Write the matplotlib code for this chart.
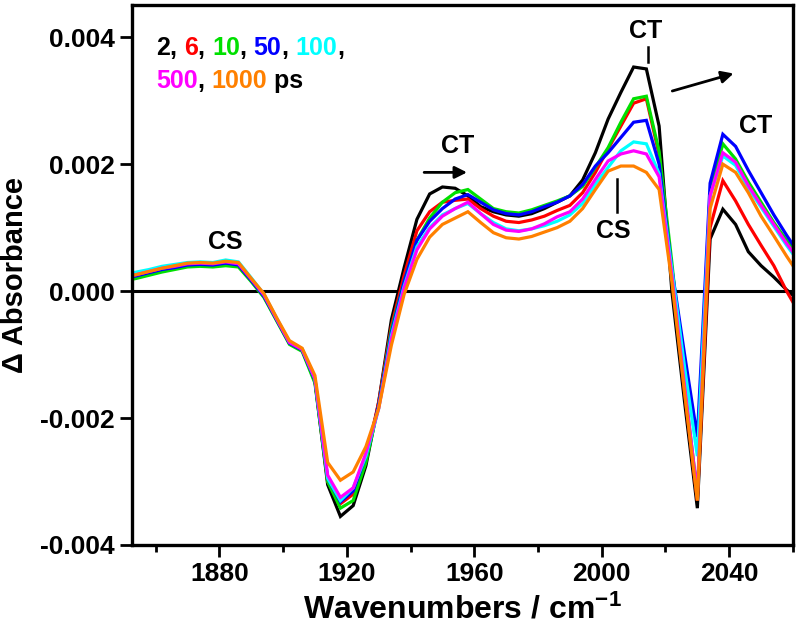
import matplotlib
matplotlib.use('Agg')
import matplotlib.pyplot as plt
from matplotlib.ticker import MultipleLocator, FormatStrFormatter
import numpy as np

FONT = 'Liberation Sans'
plt.rcParams['font.family'] = [FONT, 'DejaVu Sans']
plt.rcParams['font.weight'] = 'bold'
plt.rcParams['mathtext.fontset'] = 'custom'
plt.rcParams['mathtext.rm'] = FONT + ':bold'
plt.rcParams['mathtext.it'] = FONT + ':bold'
plt.rcParams['mathtext.bf'] = FONT + ':bold'

# wavenumber grid (cm-1), 4 cm-1 steps
wavenumbers = np.arange(1850, 2063, 4)

# delta absorbance values in mOD (multiplied by 1e-3 below)
delays = ['2', '6', '10', '50', '100', '500', '1000']
colors = ['#000000', '#ff0000', '#00e000', '#0000ff', '#00ffff', '#ff00ff', '#ff8000']

da_2ps = [0.18, 0.22, 0.27, 0.32, 0.36, 0.40, 0.41, 0.40, 0.43, 0.40, 0.17, -0.08, -0.45, -0.82,
          -0.93, -1.42, -3.05, -3.55, -3.38, -2.75, -1.75, -0.45, 0.37, 1.13, 1.53, 1.64, 1.62,
          1.50, 1.33, 1.25, 1.20, 1.18, 1.22, 1.30, 1.40, 1.50, 1.75, 2.18, 2.71, 3.13, 3.53,
          3.50, 2.60, 0.00, -1.75, -3.42, 0.82, 1.29, 1.05, 0.62, 0.40, 0.22, 0.02, -0.15]
da_6ps = [0.20, 0.24, 0.29, 0.34, 0.37, 0.41, 0.42, 0.41, 0.44, 0.41, 0.17, -0.08, -0.45, -0.82,
          -0.93, -1.40, -3.00, -3.35, -3.20, -2.65, -1.75, -0.55, 0.25, 0.95, 1.25, 1.40, 1.43,
          1.45, 1.30, 1.18, 1.10, 1.08, 1.12, 1.18, 1.27, 1.35, 1.55, 1.87, 2.24, 2.60, 2.96,
          3.03, 2.15, 0.25, -1.60, -3.30, 1.00, 1.74, 1.42, 1.05, 0.72, 0.40, 0.00, -0.35]
da_10ps = [0.16, 0.20, 0.25, 0.30, 0.34, 0.38, 0.39, 0.38, 0.40, 0.38, 0.15, -0.10, -0.47, -0.84,
           -0.95, -1.45, -3.00, -3.42, -3.30, -2.70, -1.80, -0.60, 0.15, 0.80, 1.15, 1.40, 1.55,
           1.60, 1.45, 1.30, 1.25, 1.23, 1.28, 1.35, 1.42, 1.50, 1.65, 1.95, 2.26, 2.66, 3.03,
           3.07, 2.20, 0.45, -1.50, -3.20, 1.55, 2.32, 2.08, 1.72, 1.40, 1.08, 0.80, 0.55]
da_50ps = [0.20, 0.24, 0.29, 0.34, 0.37, 0.41, 0.42, 0.41, 0.44, 0.41, 0.17, -0.08, -0.45, -0.82,
           -0.93, -1.40, -2.95, -3.32, -3.15, -2.60, -1.80, -0.65, 0.15, 0.80, 1.10, 1.30, 1.45,
           1.52, 1.40, 1.28, 1.22, 1.20, 1.25, 1.33, 1.40, 1.50, 1.68, 1.97, 2.18, 2.42, 2.66,
           2.69, 2.00, 0.35, -1.00, -2.30, 1.70, 2.47, 2.28, 1.90, 1.55, 1.20, 0.88, 0.58]
da_100ps = [0.26, 0.30, 0.34, 0.39, 0.42, 0.45, 0.46, 0.45, 0.49, 0.46, 0.21, -0.05, -0.43, -0.80,
            -0.91, -1.38, -2.95, -3.30, -3.10, -2.60, -1.85, -0.70, 0.08, 0.70, 1.00, 1.20, 1.30,
            1.38, 1.22, 1.08, 0.98, 0.95, 0.98, 1.03, 1.10, 1.20, 1.38, 1.68, 1.95, 2.21, 2.35,
            2.32, 1.85, 0.35, -1.20, -2.60, 1.50, 2.13, 1.98, 1.62, 1.32, 1.02, 0.72, 0.45]
da_500ps = [0.22, 0.26, 0.31, 0.36, 0.39, 0.43, 0.44, 0.43, 0.46, 0.43, 0.19, -0.06, -0.44, -0.81,
            -0.92, -1.38, -2.90, -3.25, -3.10, -2.55, -1.85, -0.75, 0.05, 0.65, 0.98, 1.18, 1.30,
            1.40, 1.22, 1.05, 0.96, 0.94, 0.98, 1.06, 1.17, 1.25, 1.45, 1.76, 2.05, 2.16, 2.21,
            2.16, 1.80, 0.25, -1.50, -3.20, 1.50, 2.18, 2.03, 1.66, 1.35, 1.05, 0.75, 0.48]
da_1000ps = [0.22, 0.26, 0.31, 0.36, 0.40, 0.44, 0.45, 0.44, 0.47, 0.45, 0.20, -0.04, -0.42, -0.78,
             -0.90, -1.33, -2.70, -2.98, -2.85, -2.45, -1.85, -0.85, -0.05, 0.50, 0.85, 1.05, 1.15,
             1.25, 1.08, 0.92, 0.84, 0.82, 0.86, 0.93, 1.00, 1.10, 1.30, 1.60, 1.89, 1.97, 1.97,
             1.87, 1.60, 0.15, -1.60, -3.30, 1.30, 2.00, 1.87, 1.55, 1.18, 0.87, 0.55, 0.25]

series = [da_2ps, da_6ps, da_10ps, da_50ps, da_100ps, da_500ps, da_1000ps]

fig = plt.figure(figsize=(8, 6.41), dpi=100)
ax = fig.add_axes([0.1646, 0.1498, 0.8266, 0.8417])

for vals, c in zip(series, colors):
    ax.plot(wavenumbers, np.array(vals) * 1e-3, color=c, lw=2.3, solid_joinstyle='miter')

ax.axhline(0, color='k', lw=2.2, zorder=0.5)

ax.set_xlim(1852.5, 2060)
ax.set_ylim(-0.004, 0.0045)
ax.xaxis.set_major_locator(MultipleLocator(40))
ax.xaxis.set_minor_locator(MultipleLocator(20))
ax.yaxis.set_major_locator(MultipleLocator(0.002))
ax.yaxis.set_major_formatter(FormatStrFormatter('%.3f'))
ax.tick_params(which='major', direction='out', length=8.4, width=2, labelsize=19, pad=4)
ax.tick_params(which='minor', direction='out', length=4.8, width=2)
for lab in ax.get_xticklabels() + ax.get_yticklabels():
    lab.set_fontweight('bold')
for s in ax.spines.values():
    s.set_linewidth(2.4)

ax.set_xlabel('Wavenumbers / cm$^{-1}$', fontsize=23, fontweight='bold', labelpad=6)
ax.set_ylabel('\u0394 Absorbance', fontsize=21, fontweight='bold', labelpad=8)

# legend made of coloured numbers
line1 = [('2', colors[0]), (', ', 'k'), ('6', colors[1]), (', ', 'k'), ('10', colors[2]),
         (', ', 'k'), ('50', colors[3]), (', ', 'k'), ('100', colors[4]), (',', 'k')]
line2 = [('500', colors[5]), (', ', 'k'), ('1000', colors[6]), (' ps', 'k')]
for parts, ypos in [(line1, 0.908), (line2, 0.847)]:
    prev = ax.text(0.037, ypos, parts[0][0], color=parts[0][1], transform=ax.transAxes,
                   fontsize=18, fontweight='bold', va='baseline', ha='left')
    for txt, c in parts[1:]:
        prev = ax.annotate(txt, xy=(1, 0), xycoords=prev, color=c, fontsize=18,
                           fontweight='bold', va='bottom', ha='left')

# band annotations
kw = dict(fontsize=18, fontweight='bold', ha='center', va='center')
ax.text(1882, 0.00078, 'CS', **kw)
ax.text(1954.9, 0.00229, 'CT', **kw)
ax.annotate('', xy=(1958.6, 0.00187), xytext=(1943.4, 0.00187),
            arrowprops=dict(arrowstyle='-|>', lw=2, color='k', mutation_scale=18))
ax.text(2013.9, 0.0041, 'CT', **kw)
ax.plot([2014.4, 2014.4], [0.00361, 0.00384], color='k', lw=1.8)
ax.annotate('', xy=(2042.2, 0.00344), xytext=(2021.3, 0.00314),
            arrowprops=dict(arrowstyle='-|>', lw=2, color='k', mutation_scale=18))
ax.text(2048.4, 0.0026, 'CT', **kw)
ax.text(2003.5, 0.00095, 'CS', **kw)
ax.plot([2004.7, 2004.7], [0.00124, 0.00176], color='k', lw=1.8)

fig.savefig('out.png', dpi=100)
